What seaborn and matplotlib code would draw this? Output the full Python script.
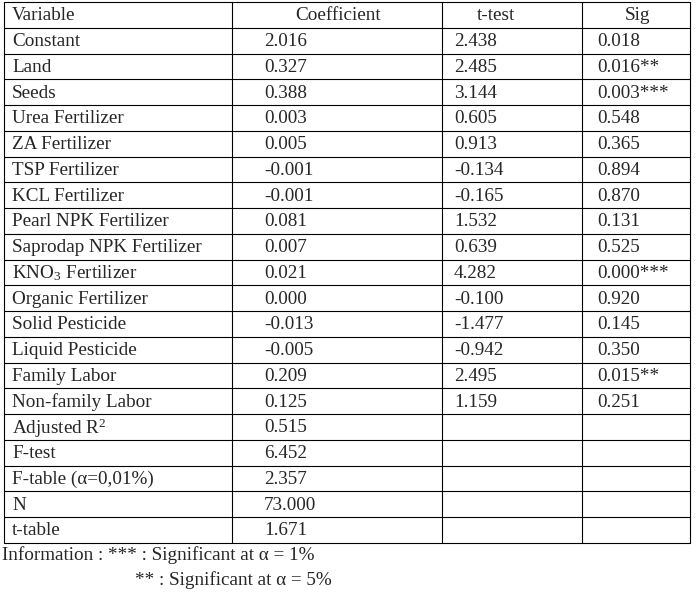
import matplotlib
matplotlib.use("Agg")
import matplotlib.pyplot as plt
import seaborn as sns

variables = ["Constant", "Land", "Seeds", "Urea Fertilizer", "ZA Fertilizer", "TSP Fertilizer",
             "KCL Fertilizer", "Pearl NPK Fertilizer", "Saprodap NPK Fertilizer", "KNO$_3$ Fertilizer",
             "Organic Fertilizer", "Solid Pesticide", "Liquid Pesticide", "Family Labor",
             "Non-family Labor", "Adjusted R$^2$", "F-test", "F-table (\u03b1=0,01%)", "N", "t-table"]
coefficient = ["2.016", "0.327", "0.388", "0.003", "0.005", "-0.001", "-0.001", "0.081", "0.007",
               "0.021", "0.000", "-0.013", "-0.005", "0.209", "0.125", "0.515", "6.452", "2.357",
               "73.000", "1.671"]
ttest = ["2.438", "2.485", "3.144", "0.605", "0.913", "-0.134", "-0.165", "1.532", "0.639", "4.282",
         "-0.100", "-1.477", "-0.942", "2.495", "1.159", "", "", "", "", ""]
sig = ["0.018", "0.016**", "0.003***", "0.548", "0.365", "0.894", "0.870", "0.131", "0.525",
       "0.000***", "0.920", "0.145", "0.350", "0.015**", "0.251", "", "", "", "", ""]
headers = ["Variable", "Coefficient", "t-test", "Sig"]
notes = ["Information : *** : Significant at \u03b1 = 1%", "** : Significant at \u03b1 = 5%"]

sns.set_style("white")
plt.rcParams['font.family'] = ['Liberation Serif', 'DejaVu Serif']
plt.rcParams['mathtext.fontset'] = 'custom'
plt.rcParams['mathtext.rm'] = 'Liberation Serif'
plt.rcParams['mathtext.it'] = 'Liberation Serif:italic'

fig = plt.figure(figsize=(7, 5.93), dpi=100)
ax = fig.add_axes([0, 0, 1, 1])
ax.set_xlim(0, 700)
ax.set_ylim(593, 0)
ax.axis("off")

fs = 13.8
rh = 25.75
top = 2
xs = [4, 232, 442, 582, 690]
nrows = len(variables) + 1
for i in range(nrows + 1):
    ax.plot([xs[0], xs[-1]], [top + i * rh] * 2, color="black", lw=0.8)
for x in xs:
    ax.plot([x, x], [top, top + nrows * rh], color="black", lw=0.8)

def yc(i):
    return top + rh * i + rh / 2 + 1

ax.text(12, yc(0), headers[0], fontsize=fs, va="center", ha="left")
ax.text(338, yc(0), headers[1], fontsize=fs, va="center", ha="center")
ax.text(496, yc(0), headers[2], fontsize=fs, va="center", ha="center")
ax.text(637, yc(0), headers[3], fontsize=fs, va="center", ha="center")
for r in range(len(variables)):
    y = yc(r + 1)
    ax.text(12, y, variables[r], fontsize=fs, va="center", ha="left")
    ax.text(264, y, coefficient[r], fontsize=fs, va="center", ha="left")
    ax.text(454, y, ttest[r], fontsize=fs, va="center", ha="left")
    ax.text(597, y, sig[r], fontsize=fs, va="center", ha="left")

ax.text(2, 555, notes[0], fontsize=fs, va="center", ha="left")
ax.text(135, 580, notes[1], fontsize=fs, va="center", ha="left")

fig.savefig("out.png", dpi=100, facecolor="white")
